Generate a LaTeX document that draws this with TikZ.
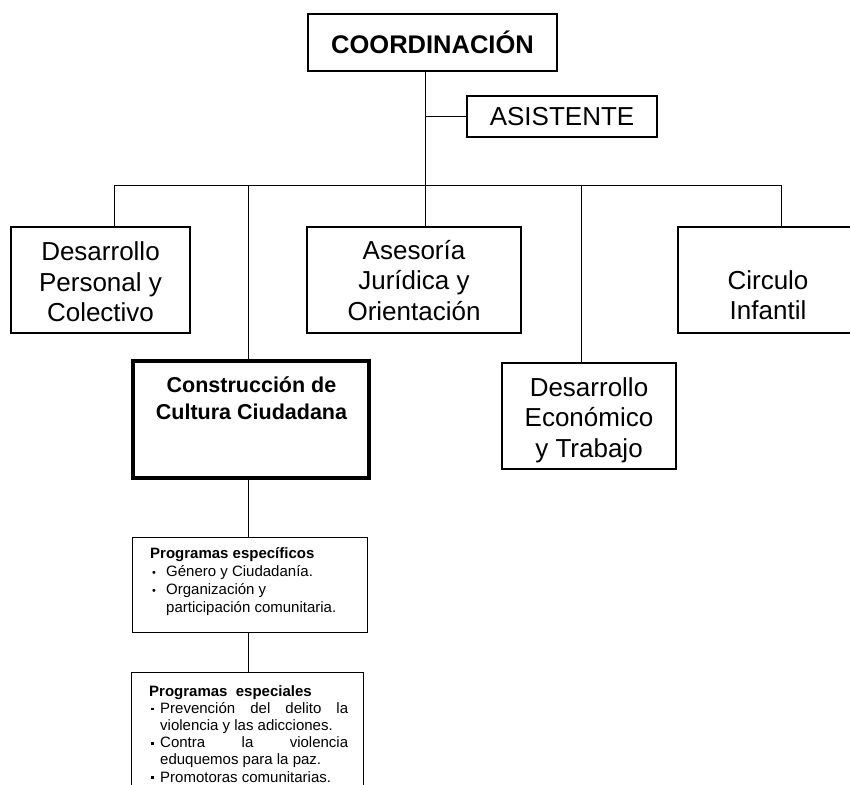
\documentclass[tikz,border=0pt]{standalone}
\usepackage{fontspec}
\setmainfont{Liberation Sans}
\begin{document}
\begin{tikzpicture}[x=1pt,y=-1pt,
  box/.style={draw, line width=2.2pt, inner sep=0pt, align=center, font=\fontsize{26}{30.5}\selectfont},
  bigtext/.style={inner sep=0pt, align=center, font=\fontsize{26}{30.5}\selectfont},
  thickbox/.style={draw, line width=4pt, inner sep=0pt},
  smallbox/.style={draw, line width=1.3pt, inner sep=0pt},
  link/.style={line width=1pt},
  smalltext/.style={anchor=north west, inner sep=0pt, align=left, font=\fontsize{15}{18}\selectfont}]
\useasboundingbox (0,0) rectangle (850,784);
\clip (0,0) rectangle (850,784);

% main boxes
\node[box, minimum width=249pt, minimum height=57pt, font=\fontsize{25.5}{30}\selectfont\bfseries] (coord) at (432.5,42.5) {COORDINACIÓN};
\node[box, minimum width=190pt, minimum height=41pt] (asis) at (562,116.5) {ASISTENTE};
\node[box, minimum width=179pt, minimum height=106pt] (dpc) at (100.5,280) {};
\node[bigtext] (dpctxt) at (100.5,282) {Desarrollo\\Personal y\\Colectivo};
\node[box, minimum width=214pt, minimum height=106pt] (ajo) at (414,280) {};
\node[bigtext] (ajotxt) at (414,280.5) {Asesoría\\Jurídica y\\Orientación};
\node[box, minimum width=178pt, minimum height=106pt] (cin) at (767,280) {};
\node[bigtext] (cintxt) at (768,295) {Circulo\\Infantil};
\node[thickbox, minimum width=236pt, minimum height=117pt] (cons) at (251,419.5) {};
\node[font=\fontsize{21.5}{27}\selectfont\bfseries, align=center, inner sep=0pt] (constxt) at (251.5,398) {Construcción de\\Cultura Ciudadana};
\node[box, minimum width=174pt, minimum height=106pt] (deco) at (589,416) {};
\node[bigtext] (decotxt) at (589,420) {Desarrollo\\Económico\\y Trabajo};
\node[smallbox, minimum width=234.7pt, minimum height=94.7pt] (pesp) at (250,585) {};
\node[smallbox, minimum width=232pt, minimum height=150pt] (pespe) at (247.5,747.6) {};

% texts of the small boxes
\node[smalltext] (pesptxt) at (150,547) {%
  {\bfseries Programas específicos}\\
  \makebox[16pt][l]{\hspace{2pt}{\fontsize{11}{11}\selectfont •}}Género y Ciudadanía.\\
  \makebox[16pt][l]{\hspace{2pt}{\fontsize{11}{11}\selectfont •}}Organización y\\
  \hspace*{16pt}participación comunitaria.};
\node[smalltext, font=\fontsize{15}{17.2}\selectfont] (pespetxt) at (149,685) {%
  {\bfseries Programas\ \ especiales}\\
  \makebox[11pt][l]{\hspace{2pt}\raisebox{3pt}{\rule{2.6pt}{2.6pt}}}\makebox[188pt][s]{Prevención del delito la}\\
  \hspace*{11pt}violencia y las adicciones.\\
  \makebox[11pt][l]{\hspace{2pt}\raisebox{3pt}{\rule{2.6pt}{2.6pt}}}\makebox[188pt][s]{Contra la violencia}\\
  \hspace*{11pt}eduquemos para la paz.\\
  \makebox[11pt][l]{\hspace{2pt}\raisebox{3pt}{\rule{2.6pt}{2.6pt}}}Promotoras comunitarias.};

% connector coordinates
\coordinate (trunk) at (425,185);
\coordinate (bL) at (114,185);
\coordinate (b2) at (248,185);
\coordinate (b4) at (581,185);
\coordinate (bR) at (781,185);

% connectors
\draw[link] (coord.south -| trunk) -- (ajo.north -| trunk);
\draw[link] (asis.west) -- (asis.west -| trunk);
\draw[link] (dpc.north -| bL) -- (bL) -- (bR) -- (cin.north -| bR);
\draw[link] (b2) -- (cons.north -| b2);
\draw[link] (b4) -- (deco.north -| b4);
\draw[link] (cons.south -| b2) -- (pesp.north -| b2);
\draw[link] (pesp.south -| b2) -- (pespe.north -| b2);
\end{tikzpicture}
\end{document}
